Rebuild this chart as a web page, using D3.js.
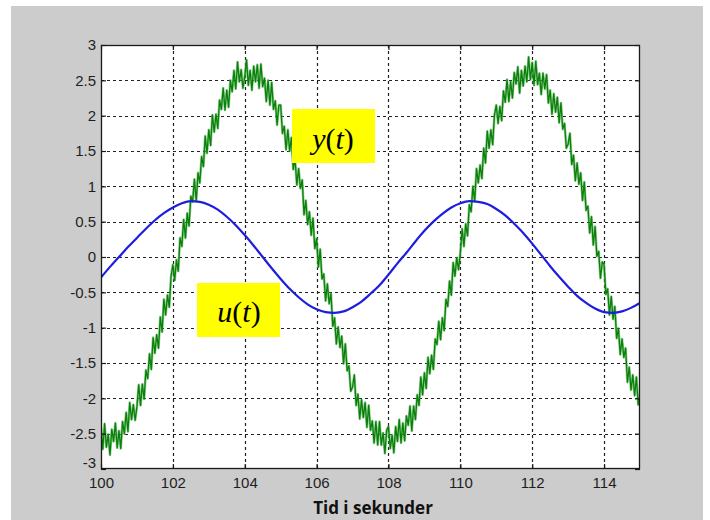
<!DOCTYPE html>
<html lang="no">
<head>
<meta charset="UTF-8">
<title>u(t) og y(t)</title>
<script src="https://d3js.org/d3.v7.min.js"></script>
<style>
  body { margin: 0; background: #fff; }
</style>
</head>
<body>
<script>
    // x axis ticks and y axis ticks
    var xTicks = [100, 102, 104, 106, 108, 110, 112, 114];
    var yTicks = [-3, -2.5, -2, -1.5, -1, -0.5, 0, 0.5, 1, 1.5, 2, 2.5, 3];
    var yTickLabels = ["-3", "-2.5", "-2", "-1.5", "-1", "-0.5", "0", "0.5", "1", "1.5", "2", "2.5", "3"];

    // u(t): sampled every 0.25 s from t = 100
    var uStart = 100, uStep = 0.25;
    var uValues = [
        -0.29, -0.14, 0.00, 0.14, 0.27, 0.40, 0.52, 0.62, 0.70, 0.76, 0.79, 0.78,
        0.74, 0.67, 0.57, 0.45, 0.31, 0.16, 0.00, -0.16, -0.31, -0.45, -0.57, -0.67,
        -0.74, -0.78, -0.79, -0.77, -0.71, -0.63, -0.52, -0.40, -0.25, -0.09, 0.06, 0.22,
        0.37, 0.50, 0.61, 0.70, 0.76, 0.79, 0.78, 0.75, 0.68, 0.59, 0.47, 0.34,
        0.19, 0.03, -0.13, -0.28, -0.42, -0.55, -0.65, -0.73, -0.78, -0.79, -0.77, -0.72,
        -0.65
    ];

    // y(t): noisy response, sampled every 0.05 s from t = 100 (one row per second)
    var yStart = 100, yStep = 0.05;
    var yValues = [
        -2.41, -2.72, -2.36, -2.69, -2.51, -2.80, -2.44, -2.61, -2.35, -2.70, -2.46, -2.71, -2.33, -2.50, -2.20, -2.47, -2.06, -2.30, -2.09, -2.31,
        -2.12, -1.81, -2.10, -1.80, -2.01, -1.60, -1.72, -1.37, -1.59, -1.14, -1.36, -1.10, -1.29, -0.85, -1.06, -0.60, -0.82, -0.54, -0.71, -0.27,
        -0.11, -0.33, -0.04, -0.20, 0.27, 0.15, 0.53, 0.27, 0.62, 0.44, 0.86, 0.78, 1.10, 0.79, 1.19, 1.05, 1.42, 1.28, 1.71, 1.47,
        1.80, 1.58, 2.01, 1.77, 2.02, 1.82, 2.22, 2.09, 2.39, 2.08, 2.36, 2.12, 2.50, 2.34, 2.64, 2.38, 2.76, 2.48, 2.65, 2.39,
        2.55, 2.79, 2.43, 2.64, 2.36, 2.70, 2.48, 2.72, 2.39, 2.73, 2.41, 2.53, 2.20, 2.50, 2.15, 2.47, 2.09, 2.21, 1.87, 2.15,
        2.15, 1.75, 1.85, 1.52, 1.80, 1.50, 1.69, 1.24, 1.39, 1.02, 1.25, 0.97, 1.09, 0.60, 0.80, 0.46, 0.64, 0.31, 0.55, 0.12,
        0.26, -0.14, 0.11, -0.31, -0.24, -0.62, -0.38, -0.66, -0.52, -0.98, -0.86, -1.23, -0.99, -1.28, -1.12, -1.51, -1.23, -1.61, -1.54, -1.90,
        -1.84, -1.67, -2.10, -1.94, -2.29, -2.02, -2.27, -2.06, -2.41, -2.10, -2.45, -2.32, -2.63, -2.33, -2.66, -2.33, -2.66, -2.49, -2.78, -2.45,
        -2.40, -2.71, -2.52, -2.77, -2.40, -2.61, -2.30, -2.63, -2.35, -2.60, -2.25, -2.38, -2.11, -2.46, -2.11, -2.30, -1.95, -2.10, -1.70, -1.95,
        -1.64, -1.86, -1.42, -1.65, -1.39, -1.59, -1.16, -1.24, -0.91, -1.17, -0.86, -1.04, -0.60, -0.70, -0.34, -0.54, -0.08, -0.27, -0.01, -0.18,
        0.06, 0.40, 0.15, 0.47, 0.30, 0.74, 0.64, 1.00, 0.79, 1.25, 1.05, 1.30, 1.11, 1.54, 1.33, 1.78, 1.54, 1.80, 1.59, 2.01,
        2.15, 1.89, 2.13, 1.93, 2.35, 2.19, 2.51, 2.20, 2.48, 2.25, 2.61, 2.45, 2.69, 2.32, 2.64, 2.42, 2.70, 2.48, 2.83, 2.51,
        2.75, 2.43, 2.77, 2.44, 2.60, 2.30, 2.60, 2.38, 2.58, 2.18, 2.36, 2.02, 2.31, 2.05, 2.26, 1.90, 2.18, 1.81, 1.89, 1.54,
        1.60, 1.75, 1.31, 1.44, 1.08, 1.33, 1.03, 1.19, 0.80, 1.06, 0.66, 0.72, 0.34, 0.57, 0.17, 0.43, 0.01, 0.08, -0.30, -0.07,
        -0.11, -0.53, -0.45, -0.82, -0.56, -0.88, -0.70, -1.15, -1.01, -1.38, -1.16, -1.42, -1.29, -1.77, -1.56, -1.88, -1.67, -1.96, -1.70, -2.09,
        -1.95
    ];

    var xLabel = "Tid i sekunder";

    var width = 710;
    var height = 520;
    var plot = {left: 101, top: 45, right: 640, bottom: 469};

    var svg = d3.select("body")
        .append("svg")
        .attr("width", width)
        .attr("height", height)
        .style("display", "block");

    // figure background (grey MATLAB window)
    svg.append("rect")
        .attr("x", 11).attr("y", 6)
        .attr("width", 692).attr("height", height - 6)
        .attr("fill", "#cccccc");

    var x = d3.scaleLinear().domain([100, 115]).range([plot.left, plot.right]);
    var y = d3.scaleLinear().domain([-3, 3]).range([plot.bottom, plot.top]);

    svg.append("rect")
        .attr("x", plot.left).attr("y", plot.top)
        .attr("width", plot.right - plot.left)
        .attr("height", plot.bottom - plot.top)
        .attr("fill", "#ffffff");

    // dotted grid
    var grid = svg.append("g").attr("class", "grid")
        .attr("stroke", "#222")
        .attr("stroke-width", 1.2)
        .attr("stroke-dasharray", "3,3");

    grid.selectAll("line.v")
        .data(xTicks.slice(1))
        .enter().append("line")
        .attr("class", "v")
        .attr("x1", function (d) { return Math.round(x(d)) + 0.5; })
        .attr("x2", function (d) { return Math.round(x(d)) + 0.5; })
        .attr("y1", plot.top).attr("y2", plot.bottom);

    grid.selectAll("line.h")
        .data(yTicks.slice(1, -1))
        .enter().append("line")
        .attr("class", "h")
        .attr("y1", function (d) { return Math.round(y(d)) + 0.5; })
        .attr("y2", function (d) { return Math.round(y(d)) + 0.5; })
        .attr("x1", plot.left).attr("x2", plot.right);

    svg.append("clipPath").attr("id", "plotclip")
        .append("rect")
        .attr("x", plot.left).attr("y", plot.top)
        .attr("width", plot.right - plot.left)
        .attr("height", plot.bottom - plot.top);

    var lines = svg.append("g").attr("clip-path", "url(#plotclip)");

    var yLine = d3.line()
        .x(function (d, i) { return x(yStart + i * yStep); })
        .y(function (d) { return y(d); });

    var uLine = d3.line()
        .curve(d3.curveMonotoneX)
        .x(function (d, i) { return x(uStart + i * uStep); })
        .y(function (d) { return y(d); });

    // y(t): soft halo under a darker core, like the dense noisy trace
    lines.append("path")
        .datum(yValues)
        .attr("fill", "none")
        .attr("stroke", "#4caf4c")
        .attr("stroke-width", 2.6)
        .attr("stroke-opacity", 0.6)
        .attr("stroke-linejoin", "round")
        .attr("d", yLine);

    lines.append("path")
        .datum(yValues)
        .attr("fill", "none")
        .attr("stroke", "#0a800a")
        .attr("stroke-width", 1.3)
        .attr("stroke-linejoin", "round")
        .attr("d", yLine);

    lines.append("path")
        .datum(uValues)
        .attr("fill", "none")
        .attr("stroke", "#1d1de0")
        .attr("stroke-width", 2.2)
        .attr("d", uLine);

    // axes, MATLAB style: ticks pointing inwards on all four sides
    var tickLen = 5;
    var axisFont = "'Liberation Sans', Arial, sans-serif";

    var xAxisBottom = d3.axisBottom(x).tickValues(xTicks).tickSize(-tickLen).tickPadding(8)
        .tickFormat(d3.format("d"));
    var xAxisTop = d3.axisTop(x).tickValues(xTicks).tickSize(-tickLen).tickFormat("");
    var yAxisLeft = d3.axisLeft(y).tickValues(yTicks).tickSize(-tickLen).tickPadding(5)
        .tickFormat(function (d, i) { return yTickLabels[i]; });
    var yAxisRight = d3.axisRight(y).tickValues(yTicks).tickSize(-tickLen).tickFormat("");

    function styleAxis(g) {
        g.selectAll(".tick line").attr("stroke", "#1a1a1a").attr("stroke-width", 1.2);
        g.selectAll(".tick text")
            .attr("fill", "#1e1e1e")
            .style("font-family", axisFont)
            .style("font-size", "15px");
    }

    svg.append("g").attr("transform", "translate(0," + plot.bottom + ")").call(xAxisBottom).call(styleAxis);
    svg.append("g").attr("transform", "translate(0," + plot.top + ")").call(xAxisTop).call(styleAxis);
    var yAxisG = svg.append("g").attr("transform", "translate(" + plot.left + ",0)").call(yAxisLeft).call(styleAxis);
    svg.append("g").attr("transform", "translate(" + plot.right + ",0)").call(yAxisRight).call(styleAxis);

    // lowest y label sits a little higher so it clears the "100" below it
    yAxisG.selectAll(".tick text")
        .filter(function (d) { return d === yTicks[0]; })
        .attr("y", -6);

    svg.selectAll("path.domain").remove();
    svg.append("rect")
        .attr("x", plot.left + 0.5).attr("y", plot.top + 0.5)
        .attr("width", plot.right - plot.left - 1)
        .attr("height", plot.bottom - plot.top - 1)
        .attr("fill", "none")
        .attr("stroke", "#1a1a1a")
        .attr("stroke-width", 1.3);

    // x label
    svg.append("text")
        .attr("x", 373).attr("y", 514)
        .attr("text-anchor", "middle")
        .style("font-family", "'Open Sans', sans-serif")
        .style("font-weight", "bold")
        .style("font-size", "17px")
        .attr("fill", "#111")
        .text(xLabel);

    // yellow signal labels
    var signalLabels = [
        {name: "y", box: [292, 109, 83, 54], cx: 333, base: 149},
        {name: "u", box: [197, 283, 83, 54], cx: 239, base: 322}
    ];

    signalLabels.forEach(function (s) {
        svg.append("rect")
            .attr("x", s.box[0]).attr("y", s.box[1])
            .attr("width", s.box[2]).attr("height", s.box[3])
            .attr("fill", "#ffff00");
        var t = svg.append("text")
            .attr("x", s.cx).attr("y", s.base)
            .attr("text-anchor", "middle")
            .style("font-family", "'Liberation Serif', 'Times New Roman', serif")
            .style("font-size", "30px")
            .attr("fill", "#000");
        t.append("tspan").style("font-style", "italic").text(s.name);
        t.append("tspan").text("(");
        t.append("tspan").style("font-style", "italic").text("t");
        t.append("tspan").text(")");
    });
</script>
</body>
</html>
